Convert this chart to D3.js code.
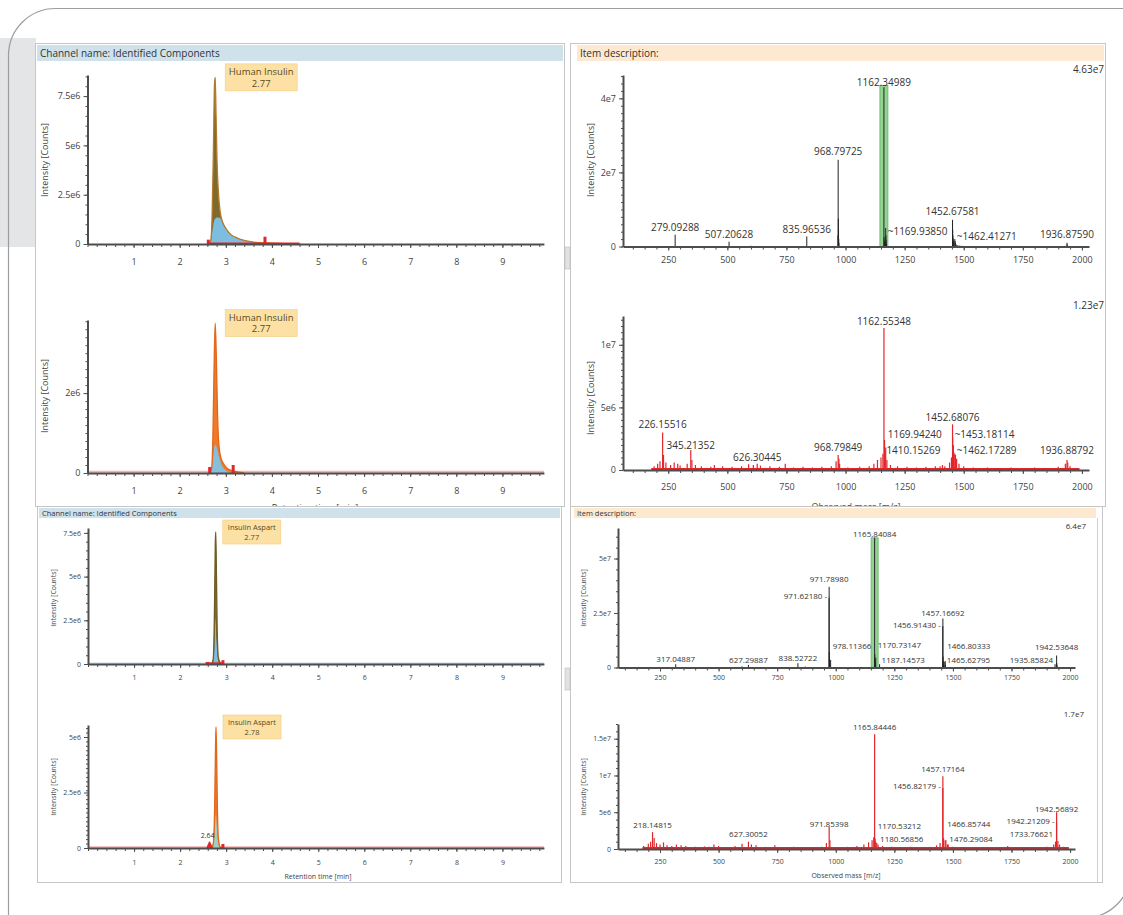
<!DOCTYPE html>
<html>
<head>
<meta charset="utf-8">
<title>Insulin review</title>
<script src="https://cdn.jsdelivr.net/npm/d3@7/dist/d3.min.js"></script>
<style>
  body { margin: 0; background: #fff; }
  svg { display: block; font-family: "Open Sans", "Noto Sans", "DejaVu Sans", sans-serif; }
</style>
</head>
<body>
<svg id="view" width="1123" height="915"></svg>
<script>
// ---------- values ----------

// shared tick labels
var rtTicks = [1, 2, 3, 4, 5, 6, 7, 8, 9];
var mzTicks = [250, 500, 750, 1000, 1250, 1500, 1750, 2000];

// chromatogram 1 : Human Insulin 2.77
var chrom1Trace = [[2.62,0],[2.67,0.15e6],[2.7,1.2e6],[2.73,4.6e6],[2.755,8.1e6],[2.77,8.45e6],[2.79,6.4e6],[2.81,4.2e6],
  [2.84,2.6e6],[2.88,1.6e6],[2.94,1.05e6],[3.0,0.8e6],[3.1,0.5e6],[3.25,0.3e6],[3.4,0.18e6],[3.6,0.1e6],[3.9,0.05e6],[4.3,0.02e6],[4.6,0.01e6]];
var chrom1Fit = [[2.66,0],[2.7,0.5e6],[2.75,1.2e6],[2.8,1.35e6],[2.84,1.35e6],[2.88,1.3e6],[2.94,1.0e6],[3.0,0.77e6],[3.1,0.48e6],
  [3.25,0.29e6],[3.4,0.17e6],[3.6,0.09e6],[3.9,0.04e6],[4.3,0]];
var chrom1Red = [[2.6,0.04e6],[4.6,0.04e6]];
var chrom1Marks = [[2.62,0.22e6],[3.85,0.37e6]];
var chrom1YTicks = [0, 2.5e6, 5e6, 7.5e6];
var chrom1YLabels = ["0", "2.5e6", "5e6", "7.5e6"];

// chromatogram 2 : Human Insulin 2.77
var chrom2Trace = [[2.64,0],[2.69,0.1e6],[2.72,0.9e6],[2.745,2.6e6],[2.77,3.75e6],[2.795,2.9e6],[2.82,1.5e6],[2.85,0.7e6],
  [2.9,0.35e6],[2.97,0.2e6],[3.05,0.1e6],[3.2,0.04e6],[3.4,0]];
var chrom2Fit = [[2.68,0],[2.72,0.3e6],[2.76,0.7e6],[2.8,0.65e6],[2.85,0.42e6],[2.92,0.18e6],[3.0,0.07e6],[3.1,0]];
var chrom2Floor = [[0,0.03e6],[9.9,0.03e6]];
var chrom2Marks = [[2.65,0.15e6],[3.16,0.2e6]];
var chrom2YTicks = [0, 2e6];
var chrom2YLabels = ["0", "2e6"];

// chromatogram 3 : Insulin Aspart 2.77
var chrom3Trace = [[2.68,0],[2.72,0.3e6],[2.745,2.8e6],[2.765,7.0e6],[2.775,7.55e6],[2.79,5.0e6],[2.805,2.0e6],[2.83,0.4e6],[2.87,0.08e6],[2.93,0]];
var chrom3Fit = [[2.72,0],[2.75,1.2e6],[2.77,2.6e6],[2.79,1.4e6],[2.82,0.3e6],[2.85,0]];
var chrom3Floor = [[0,0.03e6],[9.9,0.03e6]];
var chrom3Red = [[2.55,0.05e6],[2.93,0.05e6]];
var chrom3Marks = [[2.6,0.12e6],[2.93,0.22e6]];
var chrom3YTicks = [0, 2.5e6, 5e6, 7.5e6];
var chrom3YLabels = ["0", "2.5e6", "5e6", "7.5e6"];

// chromatogram 4 : Insulin Aspart 2.78, side peak 2.64
var chrom4Trace = [[2.68,0],[2.72,0.2e6],[2.75,1.8e6],[2.77,4.6e6],[2.78,5.45e6],[2.795,4.0e6],[2.81,1.8e6],[2.835,0.35e6],[2.87,0.06e6],[2.93,0]];
var chrom4Fit = [[2.72,0],[2.75,0.7e6],[2.775,1.5e6],[2.8,0.9e6],[2.83,0.2e6],[2.86,0]];
var chrom4Side = [[2.57,0],[2.61,0.2e6],[2.64,0.3e6],[2.67,0.2e6],[2.71,0]];
var chrom4Floor = [[0,0.03e6],[9.9,0.03e6]];
var chrom4Marks = [[2.93,0.18e6]];
var chrom4YTicks = [0, 2.5e6, 5e6];
var chrom4YLabels = ["0", "2.5e6", "5e6"];

// spectra: [m/z, intensity, label, label side, label level]
var spec1Peaks = [
  [279.09288, 0.32e7, "279.09288", "c", 0.51e7],
  [507.20628, 0.13e7, "507.20628", "c", 0.32e7],
  [835.96536, 0.27e7, "835.96536", "c", 0.46e7],
  [968.79725, 2.34e7, "968.79725", "c", 2.56e7],
  [1162.34989, 4.3e7, "1162.34989", "c", 4.44e7],
  [1169.93850, 0.5e7, "~1169.93850", "r", 0.40e7],
  [1452.67581, 0.72e7, "1452.67581", "c", 0.94e7],
  [1462.41271, 0.2e7, "~1462.41271", "r", 0.27e7],
  [1936.87590, 0.1e7, "1936.87590", "c", 0.32e7]
];
var spec1Minor = [[600,0.02e7],[968.0,0.3e7],[969.6,0.75e7],[970.4,0.45e7],[971.2,0.2e7],[972,0.1e7],[1163.2,0.25e7],[1164.3,0.15e7],
  [1165.5,0.08e7],[1170.8,0.3e7],[1171.6,0.18e7],[1172.5,0.08e7],[1453.4,0.45e7],[1454.2,0.3e7],[1455.1,0.22e7],[1456,0.15e7],
  [1463.3,0.15e7],[1464.2,0.1e7],[1467,0.06e7],[1472,0.04e7],[1480,0.03e7],[1490,0.02e7],[1937.7,0.06e7]];
var spec1YTicks = [0, 2e7, 4e7];
var spec1YLabels = ["0", "2e7", "4e7"];

var spec2Peaks = [
  [226.15516, 3.0e6, "226.15516", "c", 3.65e6],
  [345.21352, 1.6e6, "345.21352", "c", 1.98e6],
  [626.30445, 0.5e6, "626.30445", "c", 1.03e6],
  [968.79849, 1.2e6, "968.79849", "c", 1.83e6],
  [1162.55348, 11.35e6, "1162.55348", "c", 11.9e6],
  [1169.94240, 1.8e6, "1169.94240", "r", 2.86e6],
  [1410.15269, 0.4e6, "1410.15269", "l", 1.59e6],
  [1452.68076, 3.65e6, "1452.68076", "c", 4.2e6],
  [1453.18114, 2.6e6, "~1453.18114", "r", 2.86e6],
  [1462.17289, 1.3e6, "~1462.17289", "r", 1.59e6],
  [1936.88792, 0.8e6, "1936.88792", "c", 1.59e6]
];
var spec2Minor = [[190,0.3e6],[205,0.5e6],[215,0.7e6],[230,1.2e6],[240,0.6e6],[260,0.4e6],[275,0.6e6],[290,0.5e6],[300,0.35e6],
  [330,0.5e6],[350,0.8e6],[365,0.4e6],[390,0.3e6],[430,0.25e6],[445,0.4e6],[480,0.3e6],[520,0.25e6],[560,0.3e6],[590,0.45e6],
  [610,0.4e6],[640,0.35e6],[680,0.3e6],[720,0.25e6],[745,0.5e6],[780,0.2e6],[820,0.25e6],[860,0.2e6],[900,0.25e6],[940,0.3e6],
  [960,0.7e6],[972,0.9e6],[975,0.5e6],[1010,0.2e6],[1060,0.25e6],[1100,0.3e6],[1120,0.5e6],[1135,0.8e6],[1150,1.0e6],[1158,1.3e6],
  [1165,2.4e6],[1167,1.5e6],[1175,0.8e6],[1190,0.4e6],[1220,0.3e6],[1260,0.25e6],[1300,0.2e6],[1340,0.25e6],[1380,0.3e6],
  [1400,0.3e6],[1420,0.3e6],[1440,0.6e6],[1448,1.0e6],[1456,2.0e6],[1458,1.4e6],[1465,1.2e6],[1470,0.9e6],[1480,0.5e6],
  [1500,0.3e6],[1540,0.2e6],[1600,0.2e6],[1650,0.15e6],[1700,0.2e6],[1750,0.15e6],[1800,0.2e6],[1850,0.15e6],[1900,0.25e6],
  [1930,0.5e6],[1940,0.6e6],[1950,0.3e6],[1980,0.15e6]];
var spec2Floor = [[178,0],[1990,0]];
var spec2YTicks = [0, 5e6, 1e7];
var spec2YLabels = ["0", "5e6", "1e7"];

var spec3Peaks = [
  [317.04887, 0.15e7, "317.04887", "c", 0.39e7],
  [627.29887, 0.12e7, "627.29887", "c", 0.34e7],
  [838.52722, 0.2e7, "838.52722", "c", 0.44e7],
  [971.78980, 3.7e7, "971.78980", "c", 4.06e7],
  [971.62180, 3.2e7, "971.62180 -", "l", 3.28e7],
  [978.11366, 0.35e7, "978.11366", "r", 0.99e7],
  [1165.84084, 5.95e7, "1165.84084", "c", 6.12e7],
  [1170.73147, 0.45e7, "1170.73147", "r", 1.03e7],
  [1187.14573, 0.15e7, "1187.14573", "r", 0.34e7],
  [1457.16692, 2.25e7, "1457.16692", "c", 2.5e7],
  [1456.91430, 1.9e7, "1456.91430 -", "l", 1.95e7],
  [1466.80333, 0.3e7, "1466.80333", "r", 0.99e7],
  [1465.62795, 0.25e7, "1465.62795", "r", 0.34e7],
  [1935.85824, 0.15e7, "1935.85824", "l", 0.34e7],
  [1942.53648, 0.55e7, "1942.53648", "c", 0.94e7]
];
var spec3Minor = [[600,0.05e7],[870,0.04e7],[972.6,0.7e7],[973.4,0.35e7],[974.2,0.15e7],[1166.8,0.6e7],[1167.7,0.35e7],[1168.6,0.15e7],
  [1457.9,0.5e7],[1458.6,0.3e7],[1459.5,0.15e7],[1467.6,0.12e7],[1943.3,0.2e7],[1944.1,0.1e7]];
var spec3YTicks = [0, 2.5e7, 5e7];
var spec3YLabels = ["0", "2.5e7", "5e7"];

var spec4Peaks = [
  [218.14815, 2.3e6, "218.14815", "c", 3.24e6],
  [627.30052, 1.0e6, "627.30052", "c", 2.02e6],
  [971.85398, 3.0e6, "971.85398", "c", 3.37e6],
  [1165.84446, 15.6e6, "1165.84446", "c", 16.6e6],
  [1170.53212, 1.0e6, "1170.53212", "r", 3.1e6],
  [1180.56856, 0.6e6, "1180.56856", "r", 1.35e6],
  [1457.17164, 9.9e6, "1457.17164", "c", 10.9e6],
  [1456.82179, 8.3e6, "1456.82179 -", "l", 8.5e6],
  [1466.85744, 1.2e6, "1466.85744", "r", 3.37e6],
  [1476.29084, 0.6e6, "1476.29084", "r", 1.35e6],
  [1942.21209, 3.6e6, "1942.21209 -", "l", 3.78e6],
  [1733.76621, 0.4e6, "1733.76621", "r", 2.02e6],
  [1942.56892, 5.0e6, "1942.56892", "c", 5.4e6]
];
var spec4Minor = [[180,0.4e6],[200,0.7e6],[210,1.0e6],[225,1.5e6],[235,0.8e6],[250,0.6e6],[265,0.9e6],[280,0.5e6],[300,0.4e6],
  [320,0.6e6],[340,0.5e6],[360,0.4e6],[400,0.3e6],[440,0.35e6],[460,0.3e6],[480,0.6e6],[500,0.4e6],[540,0.25e6],[570,0.4e6],
  [600,0.7e6],[640,0.6e6],[660,0.5e6],[700,0.3e6],[740,0.5e6],[780,0.25e6],[820,0.3e6],[860,0.25e6],[900,0.2e6],[940,0.3e6],
  [960,0.8e6],[975,1.2e6],[1000,0.25e6],[1050,0.3e6],[1090,0.4e6],[1120,0.6e6],[1140,0.9e6],[1155,1.2e6],[1162,1.6e6],
  [1168,1.4e6],[1175,0.8e6],[1200,0.4e6],[1240,0.3e6],[1280,0.25e6],[1320,0.3e6],[1360,0.25e6],[1400,0.3e6],[1430,0.5e6],
  [1445,0.8e6],[1460,1.5e6],[1470,1.2e6],[1480,0.6e6],[1500,0.3e6],[1550,0.2e6],[1600,0.25e6],[1650,0.2e6],[1700,0.2e6],
  [1760,0.2e6],[1800,0.25e6],[1850,0.2e6],[1900,0.3e6],[1930,0.6e6],[1938,1.0e6],[1948,1.1e6],[1955,0.6e6],[1970,0.3e6]];
var spec4Floor = [[175,0],[1995,0]];
var spec4YTicks = [0, 5e6, 1e7, 1.5e7];
var spec4YLabels = ["0", "5e6", "1e7", "1.5e7"];

// ---------- drawing ----------
var svg = d3.select("#view");
var AXIS = "#4d4d4d", TEXT = "#444";

// page decoration: side tab and rounded frame (only its left/top and bottom-right corner show)
svg.append("rect").attr("x", 0).attr("y", 38).attr("width", 36).attr("height", 209).attr("fill", "#e4e5e7");
svg.append("path").attr("d", "M8.5,915 V55.5 A47,47 0 0 1 55.5,8.5 H1123")
  .attr("fill", "none").attr("stroke", "#9d9d9d").attr("stroke-width", 1.2);
svg.append("path").attr("d", "M1131,860 V871 A47,47 0 0 1 1084,918")
  .attr("fill", "none").attr("stroke", "#9d9d9d").attr("stroke-width", 1.2);

function pane(x, y, w, h) {
  svg.append("rect").attr("x", x + .5).attr("y", y + .5).attr("width", w).attr("height", h)
    .attr("fill", "#fff").attr("stroke", "#c6c6c6");
}
function header(x, y, w, h, fill, title, fs) {
  svg.append("rect").attr("x", x).attr("y", y).attr("width", w).attr("height", h).attr("fill", fill);
  svg.append("text").attr("x", x + 3).attr("y", y + h / 2).attr("dy", "0.35em")
    .attr("font-size", fs).attr("fill", "#333").text(title);
}
function grip(x, y) {
  svg.append("rect").attr("x", x).attr("y", y).attr("width", 5).attr("height", 22)
    .attr("fill", "#e2e2e2").attr("stroke", "#bdbdbd").attr("stroke-width", .6);
}

function styleAxis(sel, fs) {
  sel.attr("font-family", null).attr("font-size", fs);
  sel.select(".domain").attr("stroke", AXIS).attr("stroke-width", 2);
  sel.selectAll(".tick line").attr("stroke", AXIS);
  sel.selectAll(".tick text").attr("fill", TEXT);
}

function axes(g, x, y, c, xTickVals, xMinorN) {
  g.append("g").attr("transform", "translate(0," + c.base + ")")
    .call(d3.axisBottom(x).tickValues(x.ticks(xMinorN)).tickFormat("").tickSize(3).tickSizeOuter(0))
    .call(function(s) { s.select(".domain").remove(); s.selectAll("line").attr("stroke", AXIS); });
  g.append("g").attr("transform", "translate(" + c.left + ",0)")
    .call(d3.axisLeft(y).tickValues(y.ticks(20)).tickFormat("").tickSize(2).tickSizeOuter(0))
    .call(function(s) { s.select(".domain").remove(); s.selectAll("line").attr("stroke", AXIS); });
  g.append("g").attr("transform", "translate(0," + c.base + ")")
    .call(d3.axisBottom(x).tickValues(xTickVals).tickFormat(d3.format("d")).tickSize(4).tickSizeOuter(0).tickPadding(c.xPad))
    .call(styleAxis, c.fs);
  g.append("g").attr("transform", "translate(" + c.left + ",0)")
    .call(d3.axisLeft(y).tickValues(c.yTicks).tickFormat(function(d, i) { return c.yLabels[i]; })
      .tickSize(4).tickSizeOuter(0).tickPadding(3))
    .call(styleAxis, c.fs);
  g.append("text").attr("transform", "translate(" + c.yTitle[0] + "," + c.yTitle[1] + ") rotate(-90)")
    .attr("text-anchor", "middle").attr("dy", "0.35em").attr("font-size", c.fs).attr("fill", TEXT)
    .text("Intensity [Counts]");
  if (c.xTitle) {
    g.append("text").attr("x", c.xTitle[1]).attr("y", c.xTitle[2]).attr("text-anchor", "middle")
      .attr("dy", "0.35em").attr("font-size", c.fs).attr("fill", TEXT).text(c.xTitle[0]);
  }
}

function chromatogram(c) {
  var g = svg.append("g");
  var x = d3.scaleLinear().domain([0, 9.9]).range([c.left, c.right]);
  var y = d3.scaleLinear().domain([0, c.yMax]).range([c.base, c.top]);
  var area = d3.area().curve(d3.curveMonotoneX)
    .x(function(d) { return x(d[0]); }).y0(y(0)).y1(function(d) { return y(d[1]); });
  var line = d3.line().curve(d3.curveMonotoneX)
    .x(function(d) { return x(d[0]); }).y(function(d) { return y(d[1]); });

  if (c.floor) g.append("path").datum(c.floor).attr("d", line).attr("fill", "none")
    .attr("stroke", c.floorColor).attr("stroke-width", 2);
  g.append("path").datum(c.trace).attr("d", area).attr("fill", c.color);
  g.append("path").datum(c.fit).attr("d", area).attr("fill", c.fitColor);
  g.append("path").datum(c.trace).attr("d", line).attr("fill", "none")
    .attr("stroke", c.edge).attr("stroke-width", 1.3);
  if (c.red) g.append("path").datum(c.red).attr("d", line).attr("fill", "none")
    .attr("stroke", "#e3262b").attr("stroke-width", 1.6);
  if (c.side) {
    g.append("path").datum(c.side).attr("d", area).attr("fill", "#e3262b");
    var top = d3.greatest(c.side, function(d) { return d[1]; });
    g.append("text").attr("x", x(top[0]) - 2).attr("y", y(top[1]) - 3).attr("text-anchor", "middle")
      .attr("font-size", c.fs).attr("fill", "#333").text(d3.format(".2f")(top[0]));
  }
  g.selectAll(null).data(c.marks).enter().append("line")
    .attr("x1", function(d) { return x(d[0]); }).attr("x2", function(d) { return x(d[0]); })
    .attr("y1", y(0)).attr("y2", function(d) { return y(d[1]); })
    .attr("stroke", "#e3262b").attr("stroke-width", 3);

  axes(g, x, y, c, rtTicks, 50);

  // peak annotation
  var apex = d3.greatest(c.trace, function(d) { return d[1]; });
  var bx = x(apex[0]) + c.boxGap, by = y(apex[1]) - c.boxH / 2;
  g.append("rect").attr("x", bx).attr("y", by).attr("width", c.boxW).attr("height", c.boxH)
    .attr("fill", "#fde1a4").attr("stroke", "#f4cd80").attr("stroke-width", .6);
  g.selectAll(null).data(c.box).enter().append("text")
    .attr("x", bx + c.boxW / 2).attr("y", function(d, i) { return by + c.boxH * (0.3 + 0.42 * i); })
    .attr("dy", "0.35em").attr("text-anchor", "middle").attr("font-size", c.boxFs).attr("fill", "#5b4a1c")
    .text(function(d) { return d; });
}

function spectrum(s) {
  var g = svg.append("g");
  var x = d3.scaleLinear().domain(s.mz).range([s.left, s.right]);
  var y = d3.scaleLinear().domain([0, s.yMax]).range([s.base, s.top]);

  if (s.hl) {
    var hTop = y(s.hl[1]);
    g.append("rect").attr("x", x(s.hl[0]) - s.hlW / 2).attr("y", hTop).attr("width", s.hlW)
      .attr("height", y(0) - hTop).attr("fill", "#93d493").attr("stroke", "#5fb85f").attr("stroke-width", .8);
  }
  if (s.floor) g.append("line").attr("x1", x(s.floor[0][0])).attr("x2", x(s.floor[1][0]))
    .attr("y1", y(0) - 1).attr("y2", y(0) - 1).attr("stroke", s.color).attr("stroke-width", 2);
  g.selectAll(null).data(s.minor.concat(s.peaks)).enter().append("line")
    .attr("x1", function(d) { return x(d[0]); }).attr("x2", function(d) { return x(d[0]); })
    .attr("y1", y(0)).attr("y2", function(d) { return y(d[1]); })
    .attr("stroke", s.color).attr("stroke-width", s.stickW);
  g.selectAll(null).data(s.peaks).enter().append("text")
    .attr("x", function(d) { return x(d[0]) + (d[3] == "r" ? 2 : d[3] == "l" ? -2 : 0); })
    .attr("y", function(d) { return y(d[4]); }).attr("dy", "0.35em")
    .attr("text-anchor", function(d) { return d[3] == "r" ? "start" : d[3] == "l" ? "end" : "middle"; })
    .attr("font-size", s.labelFs).attr("fill", "#333").text(function(d) { return d[2]; });

  axes(g, x, y, s, mzTicks, 40);

  g.append("text").attr("x", s.maxAt[0]).attr("y", s.maxAt[1]).attr("dy", "0.35em").attr("text-anchor", "end")
    .attr("font-size", s.labelFs).attr("fill", "#333").text(s.maxLabel);
}

// ---- top half ----
pane(35, 43, 529, 463);
header(37, 45, 526, 16, "#cfe2ec", "Channel name: Identified Components", 10);
pane(570, 43, 535, 463);
header(577, 45, 527, 16, "#fde9cf", "Item description:", 10);
grip(565, 247);

chromatogram({ left: 87.5, right: 543.9, base: 244, top: 75, yMax: 8.57e6, fs: 9, xPad: 10.5,
  yTicks: chrom1YTicks, yLabels: chrom1YLabels, yTitle: [45, 160],
  trace: chrom1Trace, fit: chrom1Fit, red: chrom1Red, marks: chrom1Marks,
  color: "#7d6a2c", edge: "#b37a2a", fitColor: "#7dbde0",
  box: ["Human Insulin", "2.77"], boxGap: 10, boxW: 72, boxH: 27, boxFs: 9.5 });

chromatogram({ left: 87.5, right: 543.9, base: 473, top: 320, yMax: 3.83e6, fs: 9, xPad: 10.5,
  yTicks: chrom2YTicks, yLabels: chrom2YLabels, yTitle: [45, 396], xTitle: ["Retention time [min]", 315, 508],
  trace: chrom2Trace, fit: chrom2Fit, floor: chrom2Floor, floorColor: "#f4b0b3", marks: chrom2Marks,
  color: "#ee7a2a", edge: "#e2661c", fitColor: "#86bfdd",
  box: ["Human Insulin", "2.77"], boxGap: 10, boxW: 72, boxH: 27, boxFs: 9.5 });

spectrum({ left: 623, right: 1089, base: 246.5, top: 75, mz: [58.5, 2030], yMax: 4.63e7, fs: 9, xPad: 6.3,
  yTicks: spec1YTicks, yLabels: spec1YLabels, yTitle: [591, 160],
  peaks: spec1Peaks, minor: spec1Minor, color: "#222", stickW: 1, labelFs: 10,
  hl: [1162.34989, 4.35e7], hlW: 8, maxLabel: "4.63e7", maxAt: [1104, 69] });

spectrum({ left: 623, right: 1089, base: 470, top: 316, mz: [58.5, 2030], yMax: 1.23e7, fs: 9, xPad: 9.8,
  yTicks: spec2YTicks, yLabels: spec2YLabels, yTitle: [591, 398], xTitle: ["Observed mass [m/z]", 856, 507],
  peaks: spec2Peaks, minor: spec2Minor, floor: spec2Floor, color: "#e2262c", stickW: 1.2, labelFs: 10,
  maxLabel: "1.23e7", maxAt: [1104, 305] });

// ---- bottom half ----
pane(37, 506, 524, 376);
header(39, 508, 521, 10, "#cfe2ec", "Channel name: Identified Components", 7.5);
pane(570, 506, 532, 376);
header(574, 508, 522, 10, "#fde9cf", "Item description:", 7.5);
svg.append("line").attr("x1", 1097.5).attr("x2", 1097.5).attr("y1", 518).attr("y2", 882).attr("stroke", "#d0d0d0");
grip(565, 668);

chromatogram({ left: 88, right: 543.9, base: 664, top: 528, yMax: 7.78e6, fs: 7, xPad: 7.5,
  yTicks: chrom3YTicks, yLabels: chrom3YLabels, yTitle: [54, 598],
  trace: chrom3Trace, fit: chrom3Fit, red: chrom3Red, marks: chrom3Marks,
  floor: chrom3Floor, floorColor: "#c7d9e3",
  color: "#7d6a2c", edge: "#6e5d22", fitColor: "#7dbde0",
  box: ["Insulin Aspart", "2.77"], boxGap: 7, boxW: 58, boxH: 24, boxFs: 7.5 });

chromatogram({ left: 88, right: 543.9, base: 848, top: 725, yMax: 5.54e6, fs: 7, xPad: 8.5,
  yTicks: chrom4YTicks, yLabels: chrom4YLabels, yTitle: [54, 787], xTitle: ["Retention time [min]", 318, 877],
  trace: chrom4Trace, fit: chrom4Fit, side: chrom4Side, floor: chrom4Floor, floorColor: "#f4b0b3", marks: chrom4Marks,
  color: "#ee7a2a", edge: "#e2661c", fitColor: "#9fd0c4",
  box: ["Insulin Aspart", "2.78"], boxGap: 7, boxW: 58, boxH: 24, boxFs: 7.5 });

spectrum({ left: 618, right: 1075, base: 667.5, top: 528, mz: [70.7, 2021], yMax: 6.4e7, fs: 7, xPad: 3.5,
  yTicks: spec3YTicks, yLabels: spec3YLabels, yTitle: [584, 598],
  peaks: spec3Peaks, minor: spec3Minor, color: "#222", stickW: 1, labelFs: 8,
  hl: [1165.84084, 5.95e7], hlW: 7, maxLabel: "6.4e7", maxAt: [1086, 526] });

spectrum({ left: 618, right: 1075, base: 849, top: 724, mz: [70.7, 2021], yMax: 1.7e7, fs: 7, xPad: 6.5,
  yTicks: spec4YTicks, yLabels: spec4YLabels, yTitle: [584, 787], xTitle: ["Observed mass [m/z]", 846, 876],
  peaks: spec4Peaks, minor: spec4Minor, floor: spec4Floor, color: "#e2262c", stickW: 1.2, labelFs: 8,
  maxLabel: "1.7e7", maxAt: [1084, 714] });
</script>
</body>
</html>
